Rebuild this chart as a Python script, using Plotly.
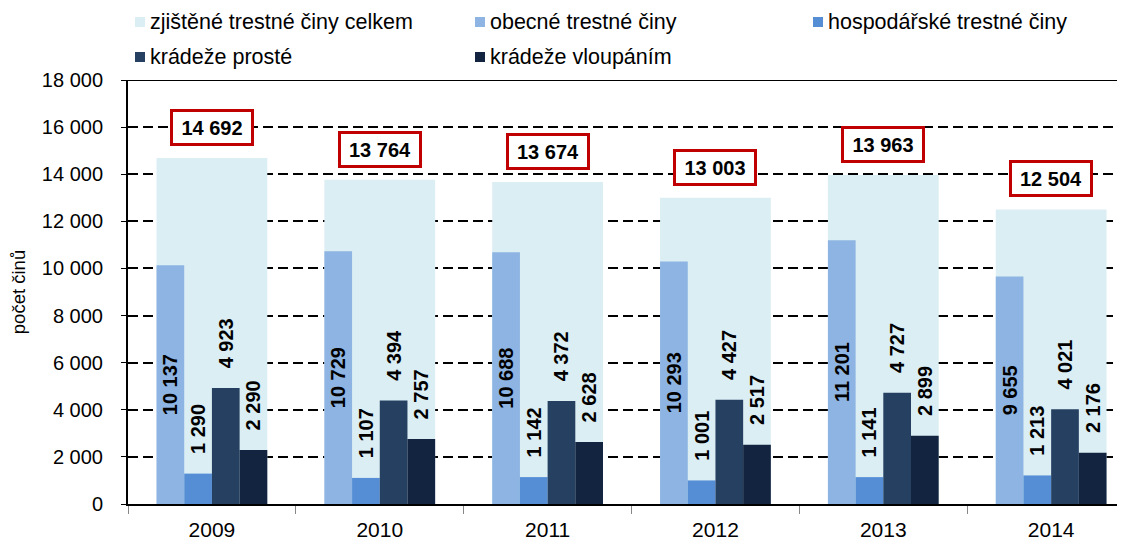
import plotly.graph_objects as go

# ---- data ----
years = ["2009", "2010", "2011", "2012", "2013", "2014"]
total = [14692, 13764, 13674, 13003, 13963, 12504]
obecne = [10137, 10729, 10688, 10293, 11201, 9655]
hospodarske = [1290, 1107, 1142, 1001, 1141, 1213]
kradeze_proste = [4923, 4394, 4372, 4427, 4727, 4021]
kradeze_vloupanim = [2290, 2757, 2628, 2517, 2899, 2176]
series_names = [
    "zjištěné trestné činy celkem",
    "obecné trestné činy",
    "hospodářské trestné činy",
    "krádeže prosté",
    "krádeže vloupáním",
]
y_title = "počet činů"

# ---- style ----
colors = ["#DBEEF4", "#8DB4E2", "#558ED5", "#254061", "#12243F"]
FONT = "Liberation Sans, Arial, sans-serif"
OFF = 8  # page body margin offset
W, H = 1125 - OFF, 540 - OFF
L, T, R, B = 128 - OFF, 80 - OFF, 0, 36
PW, PH = W - L - R, H - T - B

def px2paper(px, py):
    # px, py are screen coordinates
    return (px - OFF - L) / PW, (H - B - (py - OFF)) / PH

def fmt(v):
    return f"{v:,}".replace(",", " ")

fig = go.Figure()

fig.add_bar(
    x=years, y=total, width=0.66, offset=-0.33,
    marker=dict(color=colors[0], line=dict(width=0)),
    name=series_names[0], showlegend=False,
)

sub = [obecne, hospodarske, kradeze_proste, kradeze_vloupanim]
for i, vals in enumerate(sub):
    inside = i == 0
    prefix = "" if inside else "\u00a0\u00a0\u00a0"
    fig.add_bar(
        x=years, y=vals, width=0.165, offset=-0.33 + 0.165 * i,
        marker=dict(color=colors[i + 1], line=dict(width=0)),
        name=series_names[i + 1], showlegend=False,
        text=[prefix + "<b>" + fmt(v) + "</b>" for v in vals],
        texttemplate="%{text}",
        textposition="inside" if inside else "outside",
        insidetextanchor="middle",
        textangle=-90,
        textfont=dict(size=20, color="black", family=FONT),
        insidetextfont=dict(size=20, color="black", family=FONT),
        outsidetextfont=dict(size=20, color="black", family=FONT),
        constraintext="none",
        cliponaxis=False,
    )

# total boxes (category axis -> use category index)
for idx, v in enumerate(total):
    fig.add_annotation(
        x=idx, y=v, xref="x", yref="y", yanchor="bottom", yshift=12, showarrow=False,
        text="<b>" + fmt(v) + "</b>",
        font=dict(size=20, color="black", family=FONT),
        bgcolor="white", bordercolor="#C00000", borderwidth=3, borderpad=2,
        width=74, height=27,
    )

# custom legend (screen coordinates of text start, row centre)
legend_pos = [(148, 22), (488, 22), (826, 22), (148, 57), (488, 57)]
for name, col, (lx, ly) in zip(series_names, colors, legend_pos):
    x0, y0 = px2paper(lx - 13, ly + 5)
    x1, y1 = px2paper(lx - 3, ly - 5)
    fig.add_shape(type="rect", xref="paper", yref="paper", x0=x0, x1=x1, y0=y0, y1=y1,
                  fillcolor=col, line=dict(width=0))
    tx, ty = px2paper(lx, ly)
    fig.add_annotation(xref="paper", yref="paper", x=tx, y=ty, xanchor="left", yanchor="middle",
                       text=name, showarrow=False, font=dict(size=21.5, color="black", family=FONT))

# top solid line
fig.add_shape(type="line", xref="paper", yref="y", x0=0, x1=1, y0=18000, y1=18000,
              line=dict(color="black", width=2))

fig.update_layout(
    width=W, height=H, autosize=False,
    margin=dict(l=L, r=R, t=T, b=B, pad=0),
    barmode="overlay",
    plot_bgcolor="white", paper_bgcolor="white",
    separators=", ",
    font=dict(family=FONT, size=20, color="black"),
    showlegend=False,
)
fig.update_xaxes(
    type="category", range=[-0.5, 5.44],
    showline=True, linecolor="black", linewidth=2,
    ticks="outside", tickson="boundaries", ticklen=8, tickcolor="#888888",
    tickfont=dict(size=21), showgrid=False, ticklabelstandoff=6,
)
fig.update_yaxes(
    range=[0, 18000], dtick=2000, tickformat=",",
    showgrid=True, gridcolor="black", griddash="10px,5px", gridwidth=1.5,
    showline=True, linecolor="black", linewidth=2,
    ticks="outside", ticklen=5, tickcolor="black",
    tickfont=dict(size=20), zeroline=False, ticklabelstandoff=14,
    title=dict(text=y_title, font=dict(size=18.5), standoff=12),
)

fig.write_html("out.html")
